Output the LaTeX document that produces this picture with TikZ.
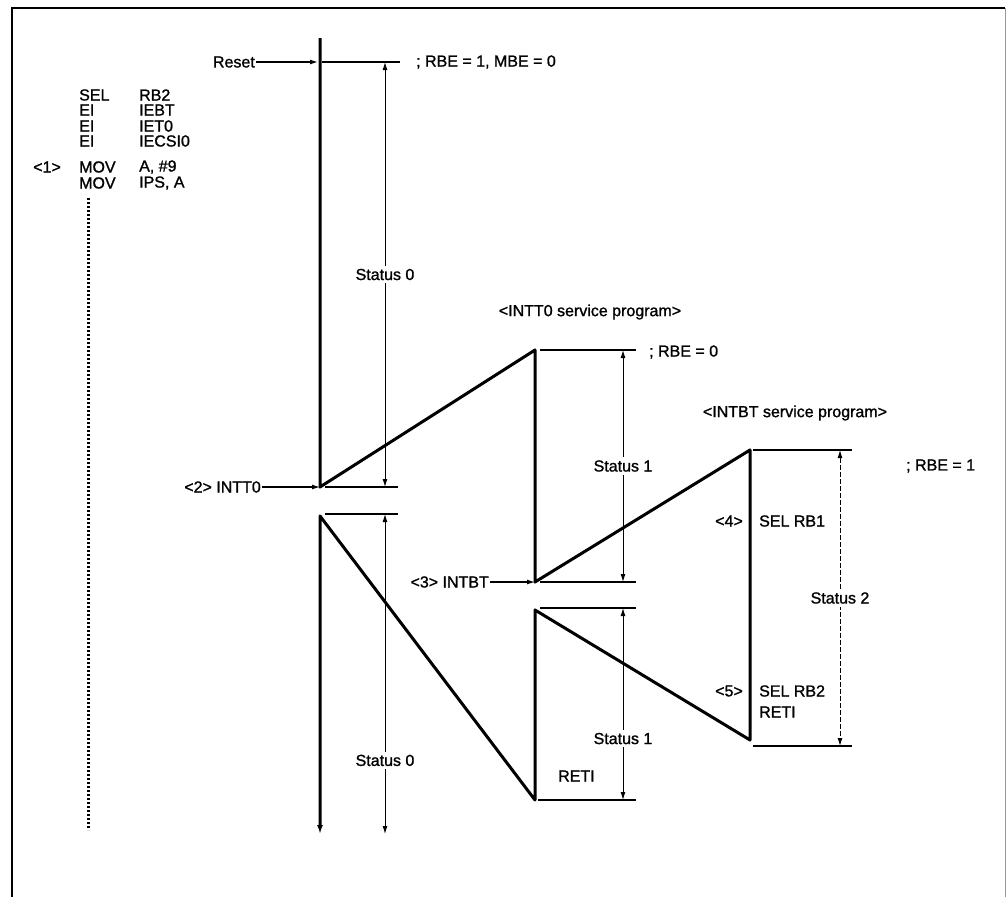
\documentclass[tikz,border=0pt]{standalone}
\usepackage{fontspec}
\setmainfont{Liberation Sans}
\newfontfamily\scanfont[RawFeature={embolden=1.2}]{Liberation Sans}
\usetikzlibrary{arrows.meta,positioning}

\begin{document}
\begin{tikzpicture}[
    x=1pt, y=-1pt,
    txt/.style={font=\scanfont\fontsize{16}{18}\selectfont, inner sep=1pt},
    stlbl/.style={txt, fill=white, inner sep=3pt},
    flow/.style={line width=3pt, line join=round},
    level/.style={line width=2.4pt},
    span/.style={{Latex[length=8pt,width=5pt]}-{Latex[length=8pt,width=5pt]}, line width=1pt},
    arrow/.style={-{Latex[length=8pt,width=5pt]}, line width=1.2pt}
]
\useasboundingbox (0,0) rectangle (1007,897);
\draw[line width=1.6pt] (12,897) -- (12,8) -- (1005,8);
\draw[line width=0.6pt, black!40] (1005,8) -- (1005,897);

% main program
\node[txt, anchor=west] (sel) at (78,95) {SEL};
\node[txt, anchor=west] (ei1) at (78,110) {EI};
\node[txt, anchor=west] (ei2) at (78,126) {EI};
\node[txt, anchor=west] (ei3) at (78,141) {EI};
\node[txt, anchor=west] (mov1) at (78,167) {MOV};
\node[txt, anchor=west] (mov2) at (78,183) {MOV};
\node[txt, anchor=west] (rb2) at (138,95) {RB2};
\node[txt, anchor=west] (iebt) at (138,110) {IEBT};
\node[txt, anchor=west] (iet0) at (138,126) {IET0};
\node[txt, anchor=west] (iecsi) at (138,141) {IECSI0};
\node[txt, anchor=west] (movarg1) at (138,167) {A, \#9};
\node[txt, anchor=west] (movarg2) at (138,183) {IPS, A};
\node[txt, anchor=east] (n1) at (62,167) {<1>};
\coordinate (dots0) at (88,198);
\coordinate (dots1) at (88,830);
\draw[line width=3pt, dash pattern=on 2pt off 2pt] (dots0) -- (dots1);

% flow of control
\coordinate (m0) at (320,38);
\coordinate (t0in) at (320,487);
\coordinate (t0top) at (535,350);
\coordinate (btin) at (535,582);
\coordinate (bttop) at (750,450);
\coordinate (btend) at (750,740);
\coordinate (t0back) at (535,610);
\coordinate (t0end) at (535,800);
\coordinate (mback) at (320,516);
\coordinate (m1) at (320,834);
\draw[flow, -{Latex[length=9pt,width=6pt]}] (m0) -- (t0in) -- (t0top) -- (btin) -- (bttop)
    -- (btend) -- (t0back) -- (t0end) -- (mback) -- (m1);

% level marks
\draw[line width=1.4pt] (322,62) -- (400,62);
\draw[level] (325,487) -- (398,487);
\draw[level] (325,514) -- (398,514);
\draw[level] (540,350) -- (636,350);
\draw[level] (540,582) -- (636,582);
\draw[level] (540,608) -- (636,608);
\draw[level] (538,800) -- (636,800);
\draw[level] (753,450) -- (852,450);
\draw[level] (753,746) -- (852,746);

% interrupts
\node[txt, anchor=east] (rst) at (256,62) {Reset};
\coordinate (rstp) at (318,62);
\draw[arrow] (rst) -- (rstp);
\node[txt, anchor=east] (intt0) at (262,487) {<2> INTT0};
\draw[arrow] (intt0) -- (t0in);
\node[txt, anchor=east] (intbt) at (490,582) {<3> INTBT};
\draw[arrow] (intbt) -- (btin);

% status spans
\draw[span] (385,62) -- node[stlbl] (st0a) {Status 0} (385,487);
\draw[span] (385,514) -- node[stlbl, pos=0.77] (st0b) {Status 0} (385,834);
\draw[span] (623,350) -- node[stlbl] (st1a) {Status 1} (623,582);
\draw[span] (623,608) -- node[stlbl, pos=0.68] (st1b) {Status 1} (623,800);
\draw[span, dash pattern=on 5pt off 2pt] (840,450) -- node[stlbl] (st2) {Status 2} (840,746);

% comments
\node[txt, anchor=west] (rbe0) at (415,62) {; RBE = 1, MBE = 0};
\node[txt] (t0prog) at (590,312) {<INTT0 service program>};
\node[txt, anchor=west] (rbe1) at (648,352) {; RBE = 0};
\node[txt] (btprog) at (795,413) {<INTBT service program>};
\node[txt, anchor=west] (rbe2) at (905,466) {; RBE = 1};
\node[txt, anchor=east] (n4) at (744,521) {<4>};
\node[txt, anchor=west] (selrb1) at (758,521) {SEL RB1};
\node[txt, anchor=east] (n5) at (744,691) {<5>};
\node[txt, anchor=west] (selrb2) at (758,691) {SEL RB2};
\node[txt, anchor=west] (reti1) at (758,712) {RETI};
\node[txt, anchor=west] (reti0) at (557,776) {RETI};
\end{tikzpicture}
\end{document}
